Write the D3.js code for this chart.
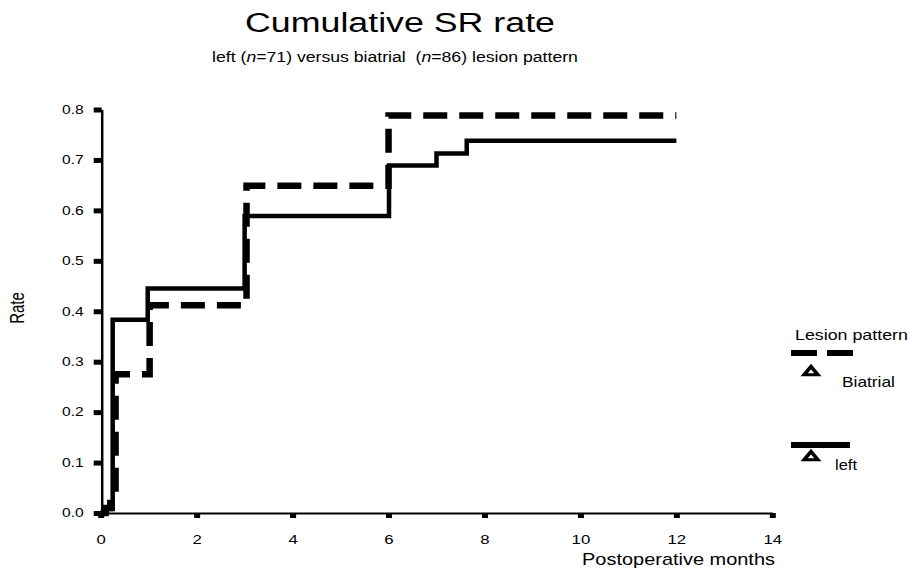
<!DOCTYPE html>
<html>
<head>
<meta charset="utf-8">
<script src="https://cdn.jsdelivr.net/npm/d3@7"></script>
<style>
  body { margin: 0; background: #fff; }
  svg text { font-family: "Liberation Sans", Arial, sans-serif; fill: #000; }
</style>
</head>
<body>
<div id="chart"></div>
<script>
// values
const biatrialMonths = [0, 0.1, 0.2, 0.31, 1.02, 3.04, 6.0, 12.0];
const biatrialRate = [0, 0.01, 0.02, 0.275, 0.412, 0.649, 0.788, 0.788];
const leftMonths = [0, 0.12, 0.25, 0.98, 3.0, 6.01, 7.0, 7.63, 12.0];
const leftRate = [0, 0.008, 0.383, 0.445, 0.589, 0.689, 0.713, 0.738, 0.738];
const xTicks = [0, 2, 4, 6, 8, 10, 12, 14];
const yTicks = [0, 0.1, 0.2, 0.3, 0.4, 0.5, 0.6, 0.7, 0.8];
const legendLabels = ["Biatrial", "left"];

const width = 909;
const height = 579;

const svg = d3
  .select("#chart")
  .append("svg")
  .attr("width", width)
  .attr("height", height);

const x = d3.scaleLinear().domain([0, 14]).range([100.7, 772.3]);
const y = d3.scaleLinear().domain([0, 0.8]).range([513, 109.5]);

// the picture is stretched sideways, so text is widened to the measured width
function fit(sel, w) {
  sel.each(function () {
    const t = d3.select(this);
    const natural = this.getComputedTextLength();
    const tx = +t.attr("x");
    const ty = +t.attr("y");
    t.attr("transform", `translate(${tx},${ty}) scale(${w / natural},1) translate(${-tx},${-ty})`);
  });
}

// axes
const xAxis = svg
  .append("g")
  .attr("transform", `translate(0,${y(0)})`)
  .call(d3.axisBottom(x).tickValues(xTicks).tickSize(5).tickSizeOuter(0).tickPadding(17));
xAxis.select(".domain").attr("stroke-width", 2);
xAxis.selectAll(".tick line").attr("stroke-width", 6);
xAxis
  .selectAll(".tick text")
  .style("font-size", "12px")
  .attr("fill", "#000")
  .attr("transform", "scale(1.4,1)");

const yAxis = svg
  .append("g")
  .attr("transform", `translate(${x(0) + 1},0)`)
  .call(
    d3.axisLeft(y).tickValues(yTicks).tickSize(8).tickSizeOuter(0).tickPadding(9).tickFormat(d3.format(".1f")),
  );
yAxis.select(".domain").attr("stroke-width", 2.5);
yAxis.selectAll(".tick line").attr("stroke-width", 5);
yAxis
  .selectAll(".tick text")
  .style("font-size", "12px")
  .attr("fill", "#000")
  .attr("x", 0)
  .attr("transform", "translate(-18,0) scale(1.3,1)");

// curves
const line = d3
  .line()
  .x((d) => x(d[0]))
  .y((d) => y(d[1]))
  .curve(d3.curveStepAfter);

svg
  .append("path")
  .datum(d3.zip(biatrialMonths, biatrialRate))
  .attr("fill", "none")
  .attr("stroke", "#000")
  .attr("stroke-width", 6.5)
  .attr("stroke-dasharray", "24,12")
  .attr("d", line);

svg
  .append("path")
  .datum(d3.zip(leftMonths, leftRate))
  .attr("fill", "none")
  .attr("stroke", "#000")
  .attr("stroke-width", 4.5)
  .attr("d", line);

// titles
svg
  .append("text")
  .attr("x", 400)
  .attr("y", 32)
  .attr("text-anchor", "middle")
  .style("font-size", "27px")
  .text("Cumulative SR rate")
  .call(fit, 310);

const sub = svg
  .append("text")
  .attr("x", 395)
  .attr("y", 62.5)
  .attr("text-anchor", "middle")
  .style("font-size", "14px")
  .style("white-space", "pre");
sub.append("tspan").text("left (");
sub.append("tspan").style("font-style", "italic").text("n");
sub.append("tspan").text("=71) versus biatrial  (");
sub.append("tspan").style("font-style", "italic").text("n");
sub.append("tspan").text("=86) lesion pattern");
sub.call(fit, 366);

svg
  .append("text")
  .attr("transform", "translate(24,308) rotate(-90) scale(1,1.3)")
  .attr("text-anchor", "middle")
  .style("font-size", "15px")
  .text("Rate");

svg
  .append("text")
  .attr("x", 775)
  .attr("y", 565)
  .attr("text-anchor", "end")
  .style("font-size", "16px")
  .text("Postoperative months")
  .call(fit, 193);

// legend
svg
  .append("text")
  .attr("x", 795)
  .attr("y", 340)
  .style("font-size", "14px")
  .text("Lesion pattern")
  .call(fit, 113);

const legendRows = [
  { lineY: 353, markY: 372, textX: 842, textY: 387, textW: 53, lineEnd: 853, dash: "26,10" },
  { lineY: 445, markY: 457, textX: 835, textY: 470, textW: 22, lineEnd: 850, dash: null },
];
const tri = d3.symbol(d3.symbolTriangle, 42);

legendLabels.forEach((name, i) => {
  const r = legendRows[i];
  svg
    .append("line")
    .attr("x1", 791)
    .attr("x2", r.lineEnd)
    .attr("y1", r.lineY)
    .attr("y2", r.lineY)
    .attr("stroke", "#000")
    .attr("stroke-width", 6)
    .attr("stroke-dasharray", r.dash);
  svg
    .append("path")
    .attr("d", tri)
    .attr("transform", `translate(811,${r.markY}) scale(1.4,0.95)`)
    .attr("fill", "#fff")
    .attr("stroke", "#000")
    .attr("stroke-width", 3)
    .attr("stroke-linejoin", "miter");
  svg
    .append("text")
    .attr("x", r.textX)
    .attr("y", r.textY)
    .style("font-size", "14px")
    .text(name)
    .call(fit, r.textW);
});
</script>
</body>
</html>
